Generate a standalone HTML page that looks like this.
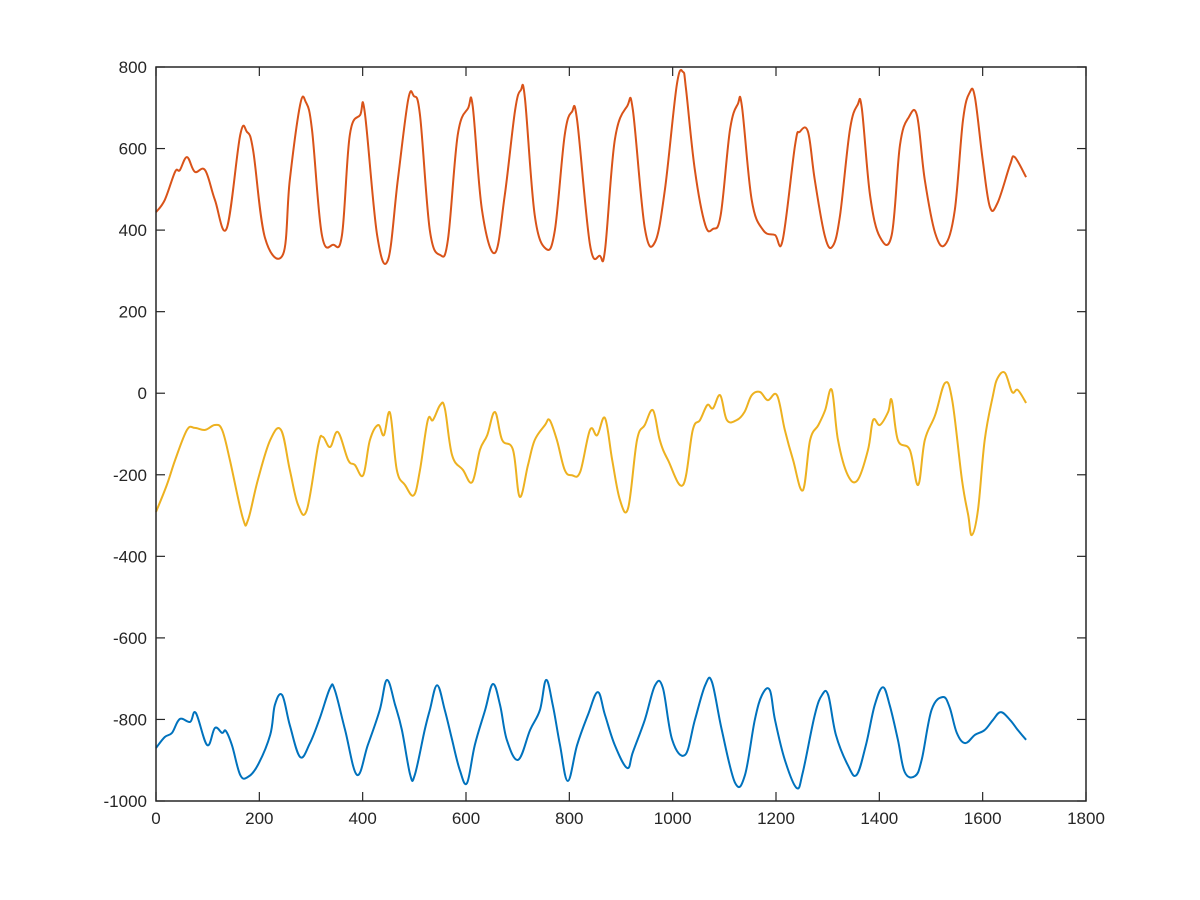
<!DOCTYPE html>
<html><head><meta charset="utf-8">
<style>
body{margin:0;background:#fff;}
svg{display:block;font-family:"Liberation Sans",Helvetica,Arial,sans-serif;}
</style></head>
<body>
<svg id="chart" width="1200" height="900" viewBox="0 0 1200 900">
<rect x="0" y="0" width="1200" height="900" fill="#fff"/>
<g id="plot"></g>
</svg>
<script>
const xTicks=[0,200,400,600,800,1000,1200,1400,1600,1800];
const yTicks=[-1000,-800,-600,-400,-200,0,200,400,600,800];
const orangeX=[0,17,37,46,60,75,95,114,137,163,176,188,211,246,259,279,290,302,321,343,360,375,395,404,428,449,468,488,499,511,530,550,565,584,604,613,631,656,675,695,706,714,733,755,772,791,805,815,840,859,869,888,912,923,946,966,985,1008,1020,1026,1043,1063,1078,1093,1111,1126,1134,1153,1175,1198,1213,1237,1246,1262,1275,1295,1310,1324,1343,1358,1366,1382,1401,1424,1440,1457,1473,1488,1508,1527,1546,1562,1575,1585,1600,1614,1629,1653,1662,1684];
const orangeY=[444,474,543,547,579,543,547,474,405,633,641,596,381,341,523,707,714,646,388,364,388,633,682,690,388,327,523,719,729,682,400,339,376,633,699,704,449,344,486,694,743,724,437,354,400,633,690,670,364,337,351,621,704,694,405,371,499,756,788,744,547,413,403,437,646,709,704,474,400,388,376,609,641,641,523,383,361,437,646,707,699,486,383,388,609,677,680,523,393,364,449,670,738,726,572,457,467,560,579,530];
const yellowX=[0,21,37,60,75,95,114,128,143,168,178,197,221,242,259,275,292,314,323,337,352,372,385,401,414,430,441,453,466,482,499,511,526,536,550,559,573,594,612,627,641,656,670,691,704,720,733,753,762,776,791,805,821,840,854,869,883,898,914,931,946,962,975,991,1020,1039,1053,1067,1078,1092,1105,1124,1139,1153,1169,1184,1202,1217,1233,1252,1266,1282,1295,1308,1320,1339,1358,1378,1388,1401,1417,1424,1436,1459,1475,1488,1508,1527,1541,1560,1572,1579,1591,1604,1620,1629,1643,1657,1668,1684];
const yellowY=[-291,-225,-164,-90,-85,-90,-78,-90,-164,-306,-311,-213,-115,-90,-188,-274,-286,-127,-107,-132,-95,-164,-176,-201,-115,-78,-103,-48,-188,-225,-250,-188,-66,-66,-29,-37,-152,-188,-218,-139,-103,-46,-115,-139,-254,-176,-115,-78,-66,-115,-188,-201,-193,-90,-103,-61,-164,-262,-281,-115,-78,-42,-115,-164,-225,-90,-66,-29,-37,-5,-66,-66,-46,-5,3,-17,-5,-90,-164,-238,-115,-78,-42,8,-115,-201,-213,-139,-66,-78,-46,-17,-115,-139,-225,-115,-54,25,-17,-213,-299,-348,-286,-115,-5,37,50,3,8,-24];
const blueX=[0,17,31,46,66,77,99,114,128,135,147,163,178,197,221,230,244,259,279,298,317,337,346,366,389,410,433,447,463,476,492,501,520,530,544,559,573,588,602,617,637,652,666,679,701,724,743,755,768,782,797,815,836,855,869,888,912,923,946,966,981,999,1024,1043,1063,1076,1095,1121,1140,1159,1173,1188,1198,1217,1240,1252,1275,1289,1301,1316,1339,1356,1374,1391,1407,1420,1436,1449,1469,1482,1501,1523,1536,1550,1566,1585,1604,1620,1635,1653,1668,1684];
const blueY=[-870,-843,-833,-799,-806,-784,-863,-821,-833,-828,-863,-936,-941,-912,-838,-765,-740,-814,-892,-858,-797,-723,-728,-826,-936,-863,-777,-703,-765,-826,-936,-936,-826,-777,-716,-777,-850,-924,-956,-863,-777,-713,-765,-850,-899,-826,-777,-703,-765,-863,-951,-863,-789,-733,-789,-863,-919,-880,-801,-716,-723,-850,-887,-801,-716,-708,-826,-956,-936,-801,-740,-728,-801,-899,-968,-929,-789,-740,-740,-838,-912,-936,-863,-765,-721,-765,-850,-929,-939,-899,-777,-745,-770,-833,-858,-838,-826,-801,-782,-801,-826,-850];

const L=156,R=1086,T=67,B=801;
const sx=v=>L+(v-0)/(1800-0)*(R-L);
const sy=v=>B-(v-(-1000))/(800-(-1000))*(B-T);
const NS='http://www.w3.org/2000/svg';
const g=document.getElementById('plot');
function mk(tag,attrs){const e=document.createElementNS(NS,tag);for(const k in attrs)e.setAttribute(k,attrs[k]);return e;}

function series(xs,ys,color,name){
  const P=xs.map((x,i)=>[sx(x),sy(ys[i])]);
  const k=0.18;
  let d='M'+P[0][0].toFixed(1)+','+P[0][1].toFixed(1);
  for(let i=0;i<P.length-1;i++){
    const p0=P[Math.max(0,i-1)],p1=P[i],p2=P[i+1],p3=P[Math.min(P.length-1,i+2)];
    const c1=[p1[0]+(p2[0]-p0[0])*k,p1[1]+(p2[1]-p0[1])*k];
    const c2=[p2[0]-(p3[0]-p1[0])*k,p2[1]-(p3[1]-p1[1])*k];
    d+=' C'+c1[0].toFixed(1)+','+c1[1].toFixed(1)+' '+c2[0].toFixed(1)+','+c2[1].toFixed(1)+' '+p2[0].toFixed(1)+','+p2[1].toFixed(1);
  }
  const p=mk('path',{d:d,fill:'none',stroke:color,'stroke-width':2,'stroke-linejoin':'round'});
  
  
  g.appendChild(p);
}
series(blueX,blueY,'#0072BD','series-blue');
series(orangeX,orangeY,'#D95319','series-orange');
series(yellowX,yellowY,'#EDB120','series-yellow');

const box=mk('rect',{x:L,y:T,width:R-L,height:B-T,fill:'none',stroke:'#262626','stroke-width':1.5});


g.appendChild(box);

xTicks.forEach(v=>{
  const x=sx(v);
  const t1=mk('line',{x1:x,y1:B,x2:x,y2:B-9,stroke:'#262626','stroke-width':1.2});
  
  
  g.appendChild(t1);
  const t2=mk('line',{x1:x,y1:T,x2:x,y2:T+9,stroke:'#262626','stroke-width':1.2});
  
  
  g.appendChild(t2);
  const tx=mk('text',{x:x,y:B+23,'text-anchor':'middle','font-size':17,fill:'#262626'});
  tx.textContent=v;
  
  
  g.appendChild(tx);
});
yTicks.forEach(v=>{
  const y=sy(v);
  const t1=mk('line',{x1:L,y1:y,x2:L+9,y2:y,stroke:'#262626','stroke-width':1.2});
  
  
  g.appendChild(t1);
  const t2=mk('line',{x1:R,y1:y,x2:R-9,y2:y,stroke:'#262626','stroke-width':1.2});
  
  
  g.appendChild(t2);
  const tx=mk('text',{x:L-9,y:y+6,'text-anchor':'end','font-size':17,fill:'#262626'});
  tx.textContent=v;
  
  
  g.appendChild(tx);
});
</script>
</body></html>
